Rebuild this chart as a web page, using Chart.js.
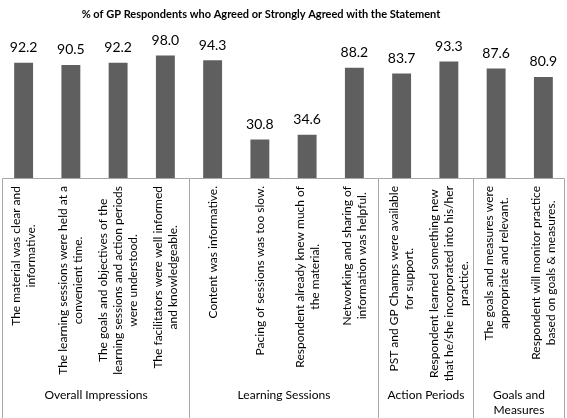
<!DOCTYPE html>
<html>
<head>
<meta charset="utf-8">
<script src="https://cdn.jsdelivr.net/npm/chart.js@4"></script>
<style>
  html, body { margin: 0; padding: 0; background: #fff; }
</style>
</head>
<body>
<canvas id="chart" width="567" height="418"></canvas>
<script>
const chartTitle = '% of GP Respondents who Agreed or Strongly Agreed with the Statement';

const statements = [
    ['The material was clear and', 'informative.'],
    ['The learning sessions were held at a', 'convenient time.'],
    ['The goals and objectives of the', 'learning sessions and action periods', 'were understood.'],
    ['The facilitators were well informed', 'and knowledgeable.'],
    ['Content was informative.'],
    ['Pacing of sessions was too slow.'],
    ['Respondent already knew much of', 'the material.'],
    ['Networking and sharing of', 'information was helpful.'],
    ['PST and GP Champs were available', 'for support.'],
    ['Respondent learned something new', 'that he/she incorporated into his/her', 'practice.'],
    ['The goals and measures were', 'appropriate and relevant.'],
    ['Respondent will monitor practice', 'based on goals & measures.']
];

const values = [92.2, 90.5, 92.2, 98.0, 94.3, 30.8, 34.6, 88.2, 83.7, 93.3, 87.6, 80.9];

const groupNames = [['Overall Impressions'], ['Learning Sessions'], ['Action Periods'], ['Goals and', 'Measures']];
const groupSizes = [4, 4, 2, 2];

const FONT = 'Lato, "Open Sans", sans-serif';
const LINE_COLOR = '#a8a8a8';

// draws title, value labels and the grouped category table under the bars
const tablePlugin = {
    id: 'tablePlugin',
    afterDatasetsDraw(chart) {
        const ctx = chart.ctx;
        const area = chart.chartArea;
        const xs = chart.scales.x;
        const meta = chart.getDatasetMeta(0);
        const half = (xs.getPixelForValue(1) - xs.getPixelForValue(0)) / 2;

        ctx.save();

        // title
        ctx.fillStyle = '#000';
        ctx.font = 'bold 11px ' + FONT;
        ctx.textAlign = 'center';
        ctx.textBaseline = 'middle';
        ctx.fillText(chartTitle, 261, 14);

        // value labels
        ctx.font = '14px ' + FONT;
        ctx.textBaseline = 'bottom';
        meta.data.forEach((bar, i) => {
            ctx.fillText(values[i].toFixed(1), bar.x, bar.y - 8);
        });

        // table lines
        const top = Math.round(area.bottom) + 0.5;
        const left = area.left + 2.5;
        const right = area.right - 2.5;
        ctx.strokeStyle = LINE_COLOR;
        ctx.lineWidth = 1;
        ctx.beginPath();
        ctx.moveTo(left, top);
        ctx.lineTo(right, top);
        let edges = [left];
        let idx = 0;
        groupSizes.forEach((n, g) => {
            idx += n;
            if (g < groupSizes.length - 1) {
                edges.push(Math.round(xs.getPixelForValue(idx - 1) + half) + 0.5);
            }
        });
        edges.push(right);
        edges.forEach(ex => {
            ctx.moveTo(ex, top);
            ctx.lineTo(ex, chart.height);
        });
        ctx.stroke();

        // rotated statements
        const lineGap = 15;
        ctx.fillStyle = '#000';
        ctx.font = '12px ' + FONT;
        ctx.textAlign = 'center';
        ctx.textBaseline = 'middle';
        statements.forEach((lines, i) => {
            const cx = xs.getPixelForValue(i);
            const maxLen = Math.max(...lines.map(l => ctx.measureText(l).width));
            lines.forEach((line, j) => {
                const lx = cx + (j - (lines.length - 1) / 2) * lineGap;
                ctx.save();
                ctx.translate(lx, 186 + maxLen / 2);
                ctx.rotate(-Math.PI / 2);
                ctx.fillText(line, 0, 0);
                ctx.restore();
            });
        });

        // group names
        ctx.font = '12px ' + FONT;
        groupSizes.forEach((n, g) => {
            const gx = (edges[g] + edges[g + 1]) / 2;
            groupNames[g].forEach((t, k) => {
                ctx.fillText(t, gx, 395 + k * 15);
            });
        });

        ctx.restore();
    }
};

new Chart(document.getElementById('chart').getContext('2d'), {
    type: 'bar',
    data: {
        labels: statements.map(s => s.join(' ')),
        datasets: [{
            label: chartTitle,
            data: values,
            backgroundColor: '#5f5f5f',
            barPercentage: 0.4,
            categoryPercentage: 1
        }]
    },
    options: {
        responsive: false,
        animation: false,
        devicePixelRatio: 1,
        layout: { padding: { top: 53, bottom: 240, left: 0, right: 0 } },
        plugins: {
            legend: { display: false },
            tooltip: { enabled: false },
            title: { display: false }
        },
        scales: {
            x: { display: false },
            y: { display: false, min: 0, max: 100 }
        }
    },
    plugins: [tablePlugin]
});
</script>
</body>
</html>
